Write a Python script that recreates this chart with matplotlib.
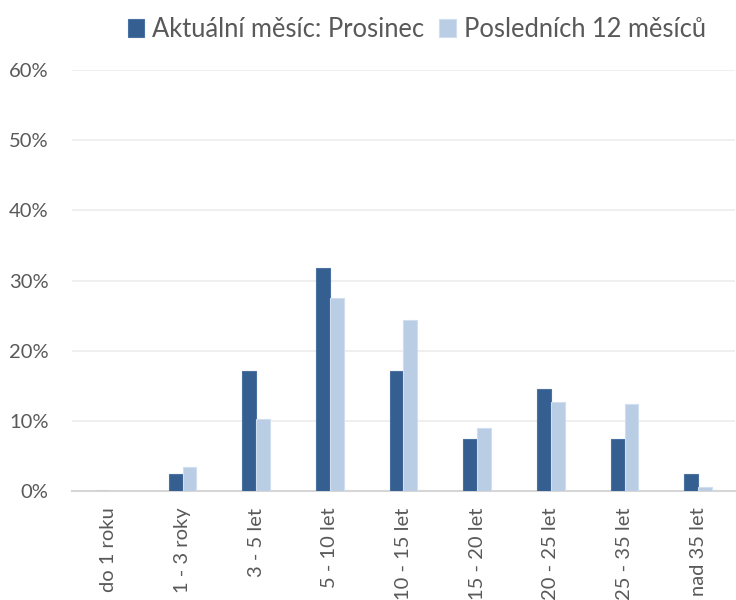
import numpy as np
import matplotlib.pyplot as plt
from matplotlib.ticker import FuncFormatter

kategorie = ["do 1 roku", "1 - 3 roky", "3 - 5 let", "5 - 10 let", "10 - 15 let",
             "15 - 20 let", "20 - 25 let", "25 - 35 let", "nad 35 let"]
aktualni = [0.0, 2.4, 17.1, 31.8, 17.1, 7.35, 14.6, 7.35, 2.4]
posledni12 = [0.0, 3.4, 10.25, 27.5, 24.4, 8.95, 12.7, 12.4, 0.6]

plt.rcParams['font.family'] = ['Lato', 'DejaVu Sans']

fig = plt.figure(figsize=(7.36, 6), dpi=100)
ax = fig.add_axes([72 / 736, 109 / 600, 663 / 736, 421 / 600])

x = np.arange(len(kategorie))
w = 0.19
ax.bar(x - w / 2, aktualni, w, color='#355F91', edgecolor='#4a72a0', linewidth=0.8,
       label='Aktuální měsíc: Prosinec', zorder=3)
ax.bar(x + w / 2, posledni12, w, color='#B9CDE5', edgecolor='#d0def0', linewidth=0.8,
       label='Posledních 12 měsíců', zorder=3)

ax.set_xlim(-0.5, len(kategorie) - 0.5)
ax.set_ylim(0, 60)
ax.set_yticks(range(0, 61, 10))
ax.yaxis.set_major_formatter(FuncFormatter(lambda v, p: f"{v:.0f}%"))
ax.set_xticks(x)
ax.set_xticklabels(kategorie, rotation=90, va='top', ha='center')

ax.grid(axis='y', color='#ececec', linewidth=1.2, zorder=0)
for s in ['top', 'right', 'left']:
    ax.spines[s].set_visible(False)
ax.spines['bottom'].set_color('#d6d6d6')
ax.spines['bottom'].set_linewidth(1.5)
ax.tick_params(axis='both', length=0, colors='#595959', labelsize=14.5)
ax.tick_params(axis='y', pad=17)
ax.tick_params(axis='x', pad=12)

fig.legend(loc='upper center', bbox_to_anchor=(0.566, 1.01), ncol=2, frameon=False,
           fontsize=18.4, handlelength=0.65, handleheight=0.65, handletextpad=0.3,
           columnspacing=0.6, labelcolor='#595959')

fig.savefig('out.png', dpi=100)
